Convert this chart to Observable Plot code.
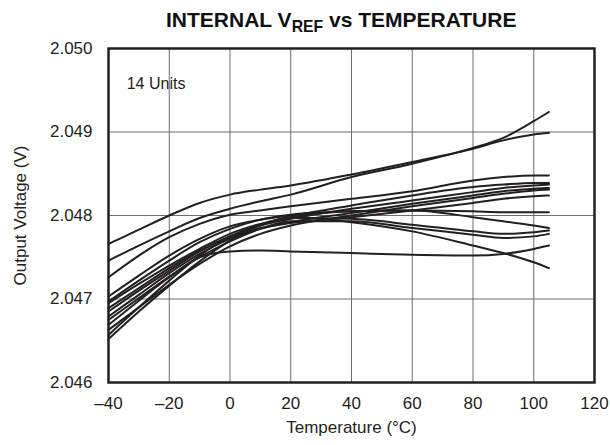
<!DOCTYPE html>
<html>
<head>
<meta charset="utf-8">
<script src="https://cdn.jsdelivr.net/npm/d3@7"></script>
<script src="https://cdn.jsdelivr.net/npm/@observablehq/plot@0.6"></script>
<style>
  body { margin: 0; background: #fff; font-family: "Liberation Sans", Arial, sans-serif; }
  #title { height: 20px; padding-top: 10px; padding-left: 166px; font-weight: bold; font-size: 21px; line-height: 20.5px; color: #111; white-space: nowrap; }
  #title sub { font-size: 0.75em; line-height: 0; vertical-align: -0.3em; }
</style>
</head>
<body>
<div id="title">INTERNAL V<sub>REF</sub> vs TEMPERATURE</div>
<div id="chart"></div>
<script>
const temps = [-40, -30, -20, -10, 0, 10, 20, 40, 60, 80, 90, 100, 105];
const unit01 = [2.04766, 2.04783, 2.04800, 2.04815, 2.04825, 2.04831, 2.04836, 2.04849, 2.04864, 2.04880, 2.04890, 2.04897, 2.04899];
const unit02 = [2.04746, 2.04764, 2.04781, 2.04797, 2.04808, 2.04817, 2.04825, 2.04846, 2.04862, 2.04881, 2.04893, 2.04913, 2.04924];
const unit03 = [2.04726, 2.04752, 2.04774, 2.04790, 2.04801, 2.04806, 2.04811, 2.04820, 2.04829, 2.04842, 2.04846, 2.04848, 2.04848];
const unit04 = [2.04703, 2.04728, 2.04752, 2.04772, 2.04787, 2.04795, 2.04800, 2.04812, 2.04824, 2.04834, 2.04837, 2.04839, 2.04839];
const unit05 = [2.04697, 2.04722, 2.04746, 2.04768, 2.04784, 2.04795, 2.04801, 2.04805, 2.04806, 2.04805, 2.04804, 2.04804, 2.04804];
const unit06 = [2.04695, 2.04718, 2.04740, 2.04760, 2.04778, 2.04790, 2.04798, 2.04805, 2.04806, 2.04798, 2.04793, 2.04788, 2.04785];
const unit07 = [2.04689, 2.04713, 2.04737, 2.04758, 2.04775, 2.04788, 2.04796, 2.04808, 2.04818, 2.04828, 2.04833, 2.04836, 2.04837];
const unit08 = [2.04685, 2.04710, 2.04734, 2.04757, 2.04775, 2.04789, 2.04797, 2.04796, 2.04789, 2.04781, 2.04778, 2.04780, 2.04782];
const unit09 = [2.04679, 2.04705, 2.04731, 2.04754, 2.04772, 2.04784, 2.04792, 2.04803, 2.04814, 2.04824, 2.04829, 2.04832, 2.04833];
const unit10 = [2.04675, 2.04701, 2.04727, 2.04750, 2.04769, 2.04784, 2.04793, 2.04793, 2.04785, 2.04777, 2.04773, 2.04775, 2.04778];
const unit11 = [2.04669, 2.04698, 2.04726, 2.04750, 2.04757, 2.04758, 2.04757, 2.04755, 2.04753, 2.04752, 2.04754, 2.04760, 2.04764];
const unit12 = [2.04663, 2.04690, 2.04717, 2.04742, 2.04763, 2.04778, 2.04788, 2.04800, 2.04811, 2.04821, 2.04826, 2.04830, 2.04831];
const unit13 = [2.04657, 2.04690, 2.04722, 2.04752, 2.04774, 2.04785, 2.04791, 2.04798, 2.04806, 2.04815, 2.04820, 2.04823, 2.04824];
const unit14 = [2.04652, 2.04685, 2.04716, 2.04745, 2.04770, 2.04788, 2.04798, 2.04792, 2.04781, 2.04764, 2.04755, 2.04744, 2.04737];

const xTicks = [-40, -20, 0, 20, 40, 60, 80, 100, 120];
const yTicks = [2.046, 2.047, 2.048, 2.049, 2.050];
const xGrid = [-20, 0, 20, 40, 60, 80, 100];
const yGrid = [2.047, 2.048, 2.049];
const unitsLabel = "14 Units";

const series = [unit01, unit02, unit03, unit04, unit05, unit06, unit07,
                unit08, unit09, unit10, unit11, unit12, unit13, unit14];
const rows = series.flatMap((vals, i) => vals.map((v, j) => ({unit: i + 1, t: temps[j], v})));

const ink = "#231f20";
const fmtX = d => d < 0 ? "\u2013" + (-d) : String(d);

const chart = Plot.plot({
  width: 610,
  height: 415,
  marginTop: 18,
  marginBottom: 63,
  marginLeft: 108,
  marginRight: 16,
  style: {fontFamily: "'Liberation Sans', Arial, sans-serif", fontSize: "17px", color: ink, background: "white", overflow: "visible"},
  x: {domain: [-40, 120]},
  y: {domain: [2.046, 2.050]},
  marks: [
    Plot.ruleX(xGrid, {stroke: "#6d6d6d", strokeWidth: 1}),
    Plot.ruleY(yGrid, {stroke: "#6d6d6d", strokeWidth: 1}),
    Plot.line(rows, {x: "t", y: "v", z: "unit", stroke: ink, strokeWidth: 2, curve: "monotone-x"}),
    Plot.text([unitsLabel], {x: -34, y: 2.04958, text: d => d, textAnchor: "start", fontSize: 16, fill: ink}),
    Plot.frame({stroke: ink, strokeWidth: 2.5}),
    Plot.axisX({ticks: xTicks, tickFormat: fmtX, tickSize: 0, tickPadding: 14,
      label: "Temperature (°C)", labelAnchor: "center", labelOffset: 50, labelArrow: "none"}),
    Plot.axisY({ticks: yTicks, tickFormat: d3.format(".3f"), tickSize: 0, tickPadding: 16,
      label: "Output Voltage (V)", labelAnchor: "center", labelOffset: 95, labelArrow: "none"})
  ]
});
document.getElementById("chart").appendChild(chart);
</script>
</body>
</html>
